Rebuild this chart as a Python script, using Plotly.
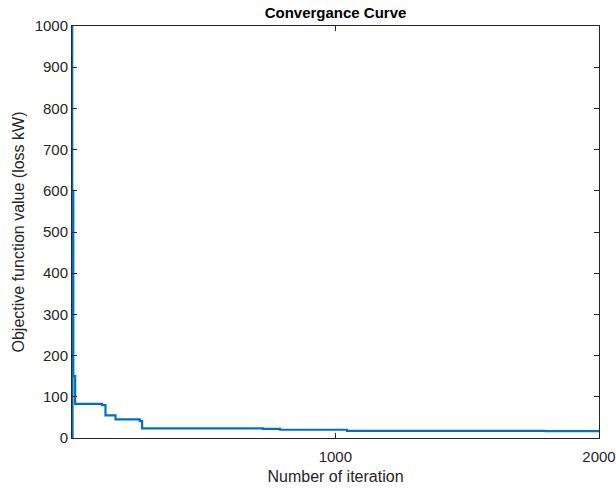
import plotly.graph_objects as go

# Step breakpoints of the convergence curve (iteration, loss kW)
iterations = [1, 2, 3, 6, 13, 115, 128, 166, 258, 267, 725, 790, 1044, 1798, 2000]
loss_kw = [1100, 0, 600, 150, 83, 80, 55, 45, 41, 23.5, 22, 20, 17.5, 16.5, 16.5]

x_ticks = [1000, 2000]
y_ticks = [0, 100, 200, 300, 400, 500, 600, 700, 800, 900, 1000]

fig = go.Figure()
fig.add_trace(go.Scatter(
    x=iterations, y=loss_kw, mode="lines",
    line=dict(color="#0072BD", width=2.2, shape="hv"),
    showlegend=False,
))

FONT = "Liberation Sans, Arial"
axis_common = dict(
    showline=True, linecolor="#262626", linewidth=1,
    mirror="ticks", ticks="inside", ticklen=5, tickcolor="#262626",
    showgrid=False, zeroline=False, automargin=False,
    tickfont=dict(family=FONT, size=15, color="#262626"),
)

fig.update_layout(
    width=616, height=488,
    margin=dict(l=72, r=17, t=26, b=50),
    paper_bgcolor="white", plot_bgcolor="white",
    title=dict(text="<b>Convergance Curve</b>", x=(72 + 599) / 2 / 616, xanchor="center",
               y=1 - 13 / 488, yanchor="middle",
               font=dict(family=FONT, size=15, color="black")),
    xaxis=dict(range=[1, 2000], tickvals=x_ticks, ticklabelstandoff=5,
               title=dict(text="Number of iteration", standoff=6,
                          font=dict(family=FONT, size=16, color="#262626")),
               **axis_common),
    yaxis=dict(range=[0, 1000], tickvals=y_ticks,
               title=dict(text="Objective function value (loss kW)", standoff=6,
                          font=dict(family=FONT, size=16, color="#262626")),
               **axis_common),
)

fig.write_html("out.html")
